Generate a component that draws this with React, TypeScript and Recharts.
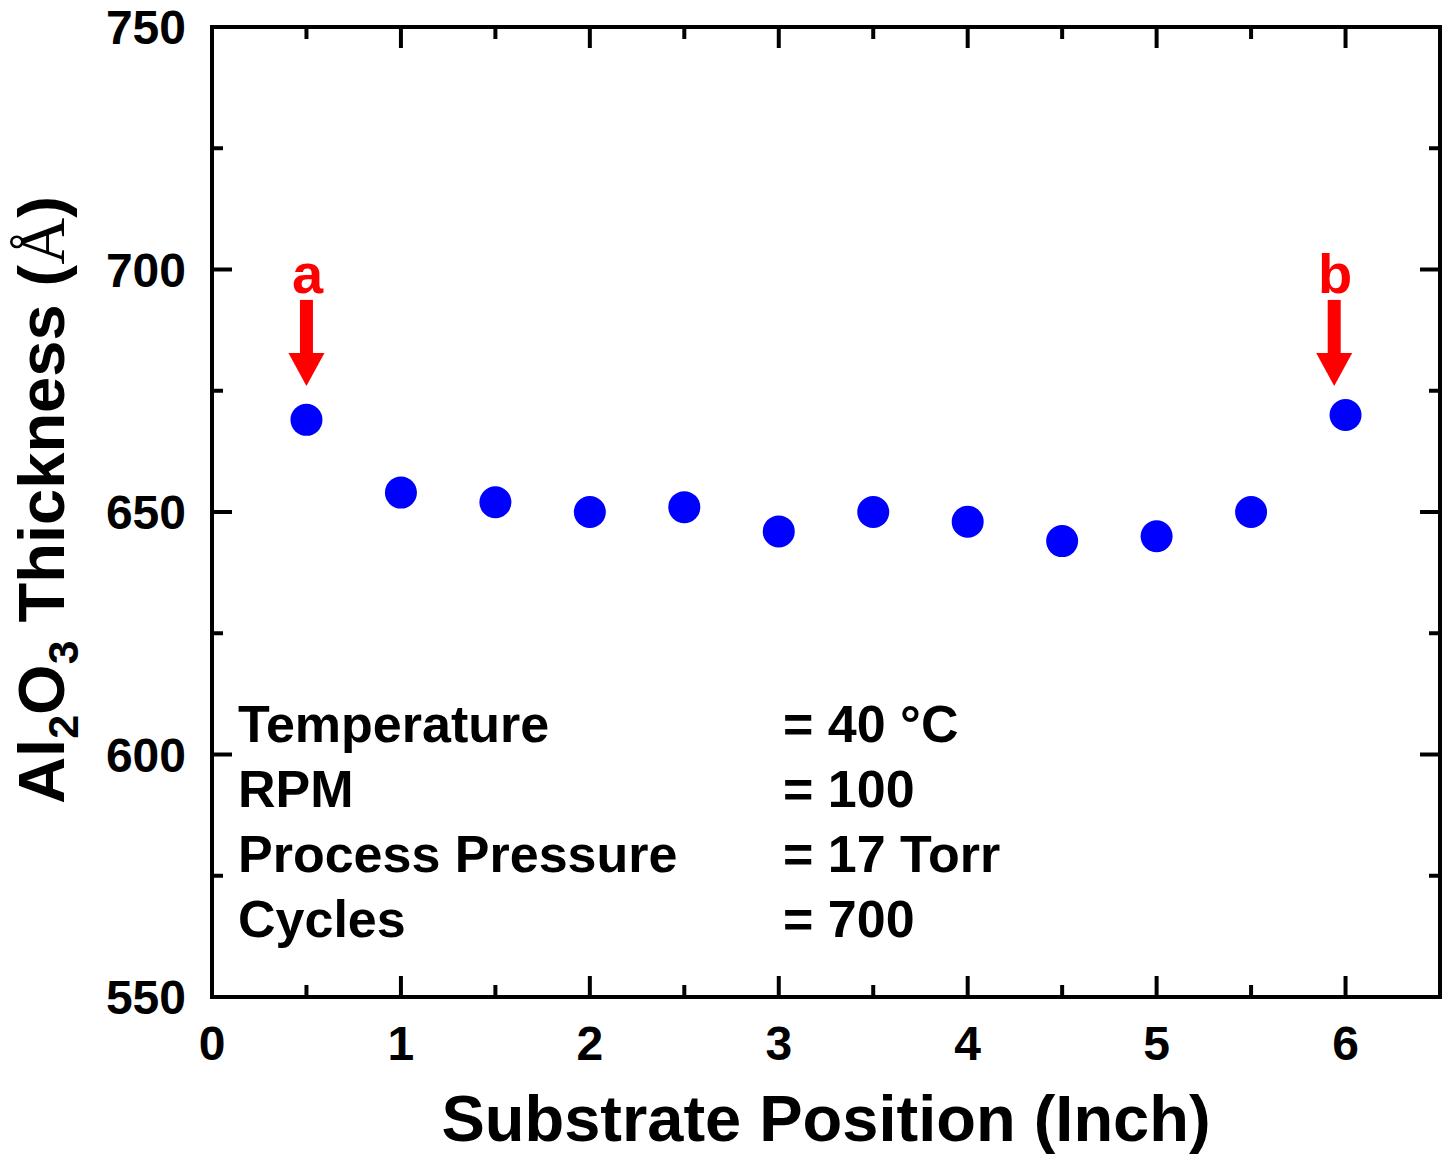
import React from "react";
import {
  ScatterChart,
  Scatter,
  XAxis,
  YAxis,
  Label,
  ReferenceLine,
} from "recharts";

// substrate position (inch) and measured Al2O3 thickness (Å)
const positions = [0.5, 1, 1.5, 2, 2.5, 3, 3.5, 4, 4.5, 5, 5.5, 6];
const thickness = [669, 654, 652, 650, 651, 646, 650, 648, 644, 645, 650, 670];

// red arrows pointing at the edge points
const arrowX = [0.5, 5.94];
const arrowTip = [676, 676];
const arrowLabels = ["a", "b"];

const xTicks = [0, 0.5, 1, 1.5, 2, 2.5, 3, 3.5, 4, 4.5, 5, 5.5, 6];
const yTicks = [550, 575, 600, 625, 650, 675, 700, 725, 750];
const xMax = 6.5;

const paramNames = ["Temperature", "RPM", "Process Pressure", "Cycles"];
const paramValues = ["= 40 °C", "= 100", "= 17 Torr", "= 700"];

const points = positions.map((x, i) => ({ x, y: thickness[i] }));
const arrows = arrowX.map((x, i) => ({ x, y: arrowTip[i], label: arrowLabels[i] }));

const W = 1444;
const H = 1155;
const LEFT_W = 212;
const RIGHT_W = 4;
const TOP_H = 27;
const BOTTOM_H = 158;
const PLOT_W = W - LEFT_W - RIGHT_W;
const PLOT_H = H - TOP_H - BOTTOM_H;

const FONT = '"Liberation Sans", Arial, sans-serif';
const axisLine = { stroke: "#000", strokeWidth: 4, strokeLinecap: "square" as const };

const isMajorX = (v: number) => Number.isInteger(v);
const isMajorY = (v: number) => v % 50 === 0;

// bottom axis tick, mirrored onto the top edge of the frame
const BottomTick = (props: any) => {
  const { x, y, payload } = props;
  const len = isMajorX(payload.value) ? 21 : 12;
  const top = y - PLOT_H;
  return (
    <g>
      <line x1={x} x2={x} y1={y} y2={y - len} stroke="#000" strokeWidth={4} />
      <line x1={x} x2={x} y1={top} y2={top + len} stroke="#000" strokeWidth={4} />
      {isMajorX(payload.value) && (
        <text x={x} y={y + 63} textAnchor="middle" fontFamily={FONT} fontWeight="bold" fontSize={48} fill="#000">
          {payload.value}
        </text>
      )}
    </g>
  );
};

// left axis tick, mirrored onto the right edge of the frame
const LeftTick = (props: any) => {
  const { x, y, payload } = props;
  const len = isMajorY(payload.value) ? 20 : 11;
  const right = x + PLOT_W;
  return (
    <g>
      <line x1={x} x2={x + len} y1={y} y2={y} stroke="#000" strokeWidth={4} />
      <line x1={right} x2={right - len} y1={y} y2={y} stroke="#000" strokeWidth={4} />
      {isMajorY(payload.value) && (
        <text x={x - 26} y={y} dy={17} textAnchor="end" fontFamily={FONT} fontWeight="bold" fontSize={48} fill="#000">
          {payload.value}
        </text>
      )}
    </g>
  );
};

const YTitle = (props: any) => {
  const vb = props.viewBox;
  const cx = vb.x + 64;
  const cy = vb.y + vb.height / 2 - 12;
  return (
    <text
      x={cx}
      y={cy}
      transform={`rotate(-90, ${cx}, ${cy})`}
      textAnchor="middle"
      fontFamily={FONT}
      fontWeight="bold"
      fontSize={65}
      fill="#000"
    >
      Al
      <tspan fontSize={43} dy={14}>2</tspan>
      <tspan dy={-14}>O</tspan>
      <tspan fontSize={43} dy={14}>3</tspan>
      <tspan dy={-14}> Thickness (</tspan>
      <tspan fontFamily='"Liberation Serif", serif' fontWeight="normal">Å</tspan>
      <tspan>)</tspan>
    </text>
  );
};

const XTitle = (props: any) => {
  const vb = props.viewBox;
  return (
    <text
      x={vb.x + vb.width / 2}
      y={vb.y + 144}
      textAnchor="middle"
      fontFamily={FONT}
      fontWeight="bold"
      fontSize={65}
      fill="#000"
    >
      Substrate Position (Inch)
    </text>
  );
};

const Dot = (props: any) => <circle cx={props.cx} cy={props.cy} r={16} fill="#0000ff" />;

const Arrow = (props: any) => {
  const { cx, cy, payload } = props;
  return (
    <g>
      <rect x={cx - 6.5} y={cy - 86} width={13} height={54} fill="#ff0000" />
      <polygon points={`${cx - 18},${cy - 33} ${cx + 18},${cy - 33} ${cx},${cy}`} fill="#ff0000" />
      <text x={cx + 1} y={cy - 93} textAnchor="middle" fontFamily={FONT} fontWeight="bold" fontSize={56} fill="#ff0000">
        {payload.label}
      </text>
    </g>
  );
};

const textBlock = {
  position: "absolute" as const,
  top: 692,
  fontSize: 52,
  lineHeight: "65px",
  fontWeight: "bold" as const,
  color: "#000",
  whiteSpace: "nowrap" as const,
};

export default function App() {
  return (
    <div
      style={{
        position: "absolute",
        left: 0,
        top: 0,
        width: W,
        height: H,
        overflow: "hidden",
        background: "#fff",
        fontFamily: FONT,
      }}
    >
      <ScatterChart width={W} height={H} margin={{ top: 0, right: 0, bottom: 0, left: 0 }}>
        <XAxis
          dataKey="x"
          type="number"
          domain={[0, xMax]}
          ticks={xTicks}
          interval={0}
          height={BOTTOM_H}
          tickSize={0}
          tickMargin={0}
          tickLine={false}
          axisLine={axisLine}
          tick={<BottomTick />}
          allowDataOverflow
        >
          <Label content={<XTitle />} />
        </XAxis>
        <XAxis
          xAxisId="top"
          orientation="top"
          type="number"
          domain={[0, xMax]}
          height={TOP_H}
          tickLine={false}
          axisLine={axisLine}
          tick={false}
        />
        <YAxis
          dataKey="y"
          type="number"
          domain={[550, 750]}
          ticks={yTicks}
          interval={0}
          width={LEFT_W}
          tickSize={0}
          tickMargin={0}
          tickLine={false}
          axisLine={axisLine}
          tick={<LeftTick />}
          allowDataOverflow
        >
          <Label content={<YTitle />} />
        </YAxis>
        <YAxis
          yAxisId="right"
          orientation="right"
          type="number"
          domain={[550, 750]}
          width={RIGHT_W}
          tickLine={false}
          axisLine={axisLine}
          tick={false}
        />
        <ReferenceLine x={xMax} stroke="#000" strokeWidth={4} />
        <Scatter data={arrows} shape={<Arrow />} isAnimationActive={false} />
        <Scatter data={points} shape={<Dot />} isAnimationActive={false} />
      </ScatterChart>
      <div style={{ ...textBlock, left: 238 }}>
        {paramNames.map((n) => (
          <div key={n}>{n}</div>
        ))}
      </div>
      <div style={{ ...textBlock, left: 783 }}>
        {paramValues.map((v) => (
          <div key={v}>{v}</div>
        ))}
      </div>
    </div>
  );
}
